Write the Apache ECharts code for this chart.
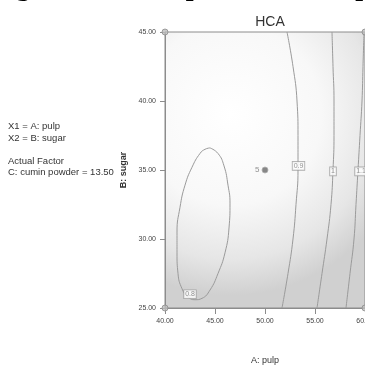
<!DOCTYPE html>
<html>
<head>
<meta charset="utf-8">
<script src="https://cdn.jsdelivr.net/npm/echarts@6/dist/echarts.min.js"></script>
<style>
html,body{margin:0;padding:0;background:#fff}
#main{width:365px;height:365px}
</style>
</head>
<body>
<div id="main"></div>
<script>
// values (x = A: pulp, y = B: sugar)
var xTicks = [40, 45, 50, 55, 60];
var yTicks = [25, 30, 35, 40, 45];
var contour08 = [[44.5,36.6],[45.3,36.2],[45.9,35.3],[46.3,33.9],[46.5,32.6],[46.4,30.8],[46.0,29.0],[45.3,27.5],[44.5,26.3],[43.7,25.7],[43.0,25.6],[42.3,25.8],[41.7,26.4],[41.3,27.5],[41.2,29.0],[41.2,30.5],[41.5,32.3],[42.0,33.9],[42.7,35.2],[43.5,36.2],[44.0,36.5],[44.5,36.6]];
var contour09 = [[51.7,25],[52.3,27.5],[52.8,30],[53.1,32.5],[53.3,35],[53.3,37.5],[53.2,40],[52.8,42.5],[52.2,45]];
var contour10 = [[55.2,25],[55.7,27.5],[56.2,30],[56.6,32.5],[56.8,35],[56.9,37.5],[56.9,40],[56.8,42.5],[56.7,45]];
var contour11 = [[58.1,25],[58.5,27.5],[58.9,30],[59.1,32.5],[59.3,35],[59.5,37.5],[59.7,40],[59.8,42.5],[59.9,45]];
var contourLabels = [[42.5,26.0,'0.8'],[53.35,35.3,'0.9'],[56.8,34.9,'1'],[59.6,34.9,'1.1']];
var centerPoint = [[50,35,'5']];
var cornerPoints = [[40,45],[40,25],[60,45],[60,25]];
var factorText = ['X1 = A: pulp', 'X2 = B: sugar', '', 'Actual Factor', 'C: cumin powder = 13.50'];

var chart = echarts.init(document.getElementById('main'));
var narrow = '"Liberation Sans Narrow", "Liberation Sans", Arial, sans-serif';

function contourLine(data) {
    return {
        type: 'line',
        data: data,
        smooth: true,
        showSymbol: false,
        silent: true,
        lineStyle: {color: '#9a9a9a', width: 1},
        z: 3
    };
}

var option = {
    animation: false,
    backgroundColor: '#fff',
    title: {
        text: 'HCA',
        left: 265,
        top: 10,
        textAlign: 'center',
        textStyle: {fontFamily: narrow, fontSize: 14, fontWeight: 'normal', color: '#333'}
    },
    graphic: [
        {
            type: 'text',
            left: 16,
            top: -26,
            style: {text: 'g. 3: HCA, response surface plot', font: 'bold 28px "Liberation Serif", serif', fill: '#000'}
        },
        {
            type: 'text',
            left: 8,
            top: 121,
            style: {text: factorText.join('\n'), font: '9.5px ' + narrow, fill: '#333', lineHeight: 11.5}
        }
    ],
    grid: {
        left: 165,
        top: 32,
        width: 200,
        height: 276,
        containLabel: false,
        outerBoundsMode: 'none',
        show: true,
        borderColor: '#8c8c8c',
        borderWidth: 1,
        backgroundColor: new echarts.graphic.RadialGradient(0.33, 0.3, 0.9, [
            {offset: 0, color: '#ffffff'},
            {offset: 0.5, color: '#f8f8f8'},
            {offset: 0.8, color: '#e6e6e6'},
            {offset: 1, color: '#d0d0d0'}
        ])
    },
    xAxis: {
        type: 'value',
        min: xTicks[0],
        max: xTicks[xTicks.length - 1],
        interval: 5,
        name: 'A: pulp',
        nameLocation: 'middle',
        nameGap: 48,
        nameTextStyle: {fontFamily: narrow, fontSize: 9, color: '#333'},
        axisLine: {show: true, lineStyle: {color: '#8c8c8c'}},
        axisTick: {show: true, length: 6, lineStyle: {color: '#8c8c8c'}},
        splitLine: {show: false},
        axisLabel: {fontFamily: narrow, fontSize: 7, color: '#444', margin: 10, formatter: function (v) { return v.toFixed(2); }}
    },
    yAxis: {
        type: 'value',
        min: yTicks[0],
        max: yTicks[yTicks.length - 1],
        interval: 5,
        name: 'B: sugar',
        nameLocation: 'middle',
        nameGap: 32,
        nameTextStyle: {fontFamily: narrow, fontSize: 9, fontWeight: 'bold', color: '#333'},
        axisLine: {show: true, lineStyle: {color: '#8c8c8c'}},
        axisTick: {show: true, length: 5, lineStyle: {color: '#8c8c8c'}},
        splitLine: {show: false},
        axisLabel: {fontFamily: narrow, fontSize: 7, color: '#444', margin: 9, formatter: function (v) { return v.toFixed(2); }}
    },
    series: [
        contourLine(contour08),
        contourLine(contour09),
        contourLine(contour10),
        contourLine(contour11),
        {
            type: 'scatter',
            data: contourLabels,
            symbolSize: 0,
            silent: true,
            z: 5,
            label: {
                show: true,
                position: 'inside',
                formatter: function (p) { return p.value[2]; },
                fontFamily: narrow,
                fontSize: 7,
                color: '#777',
                backgroundColor: '#fff',
                borderColor: '#9a9a9a',
                borderWidth: 0.8,
                padding: [1, 1, 0, 1]
            }
        },
        {
            type: 'scatter',
            data: centerPoint,
            symbol: 'circle',
            symbolSize: 6,
            silent: true,
            z: 6,
            itemStyle: {color: '#6a6a6a', borderColor: '#b0b0b0', borderWidth: 1},
            label: {
                show: true,
                position: 'left',
                distance: 2,
                formatter: function (p) { return p.value[2]; },
                fontFamily: narrow,
                fontSize: 8,
                color: '#777'
            }
        },
        {
            type: 'scatter',
            data: cornerPoints,
            symbol: 'circle',
            symbolSize: 6,
            silent: true,
            z: 6,
            itemStyle: {color: '#bdbdbd', borderColor: '#8c8c8c', borderWidth: 1}
        }
    ]
};

chart.setOption(option);
</script>
</body>
</html>
